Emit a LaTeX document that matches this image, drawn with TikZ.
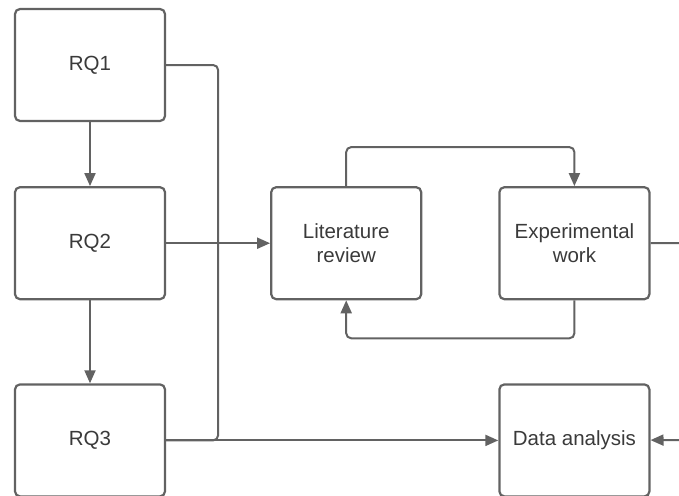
\documentclass[tikz,border=0pt]{standalone}
\usepackage{fontspec}
\setmainfont{Liberation Sans}
\usetikzlibrary{arrows.meta,positioning,calc}
\definecolor{LineGray}{RGB}{98,98,98}
\definecolor{TextGray}{RGB}{58,58,58}

\begin{document}
\begin{tikzpicture}[>={Triangle[length=13pt,width=11pt]},
 stagebox/.style={draw=LineGray,line width=2.2pt,rounded corners=5pt,minimum width=150pt,
  minimum height=112pt,inner sep=0pt,align=center,text=TextGray,
  font=\fontsize{20.5}{24}\selectfont},
 link/.style={draw=LineGray,line width=2pt,rounded corners=5pt},
 flow/.style={link,->}]
\useasboundingbox (0,0) rectangle (679pt,-495pt);
\node[stagebox] (rq1) at (90pt,-65pt) {RQ1};
\node[stagebox,below=64pt of rq1] (rq2) {RQ2};
\node[stagebox,below=83pt of rq2] (rq3) {RQ3};
\node[stagebox,right=104pt of rq2] (lit) {Literature\\review};
\node[stagebox,right=76pt of lit] (exp) {Experimental\\work};
\node[stagebox,below=83pt of exp] (data) {Data analysis};
% research questions
\draw[flow] (rq1) -- (rq2);
\draw[flow] (rq2) -- (rq3);
\coordinate (bus) at ($(rq2.east)+(52pt,0)$);
\draw[link] (rq1.east) -| (bus);
\draw[link] (rq3.east) -| (bus);
\draw[flow] (rq2) -- (lit);
\draw[flow] (rq3) -- (data);
% loop between review and experiments
\draw[flow] (lit.north) -- ++(0,39pt) -| (exp.north);
\draw[flow] (exp.south) -- ++(0,-38pt) -| (lit.south);
% edges leaving the picture
\coordinate (expout) at (679pt,-243pt);
\coordinate (datain) at (679pt,-440pt);
\draw[link] (exp) -- (expout);
\draw[flow] (datain) -- (data);
\end{tikzpicture}
\end{document}
